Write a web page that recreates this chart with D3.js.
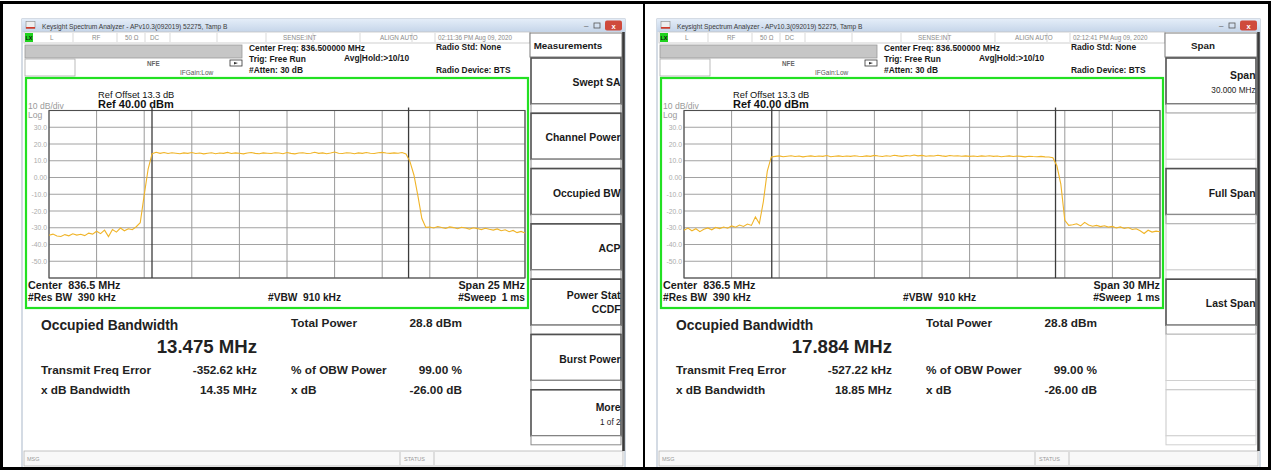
<!DOCTYPE html>
<html>
<head>
<meta charset="utf-8">
<script src="https://cdn.jsdelivr.net/npm/d3@7"></script>
<style>
body { margin: 0; background: #fff; }
svg { display: block; }
text { font-family: "Liberation Sans", Arial, sans-serif; white-space: pre; }
</style>
</head>
<body>
<div id="wrapper"></div>
<script>
// values
const centerFreq = 836.5            // MHz
const spans = [25, 30]              // MHz
const refLevel = 40                 // dBm
const refOffset = 13.3              // dB
const dbPerDiv = 10
const timestamps = ["02:11:36 PM Aug 09, 2020", "02:12:41 PM Aug 09, 2020"]
const occupiedBw = [13.475, 17.884] // MHz
const freqErrorKhz = [-352.62, -527.22]
const xdbBandwidth = [14.35, 18.85] // MHz
const totalPower = [28.8, 28.8]     // dBm
const obwPercent = [99.00, 99.00]
const xdbValue = [-26.00, -26.00]
const yTickValues = [30, 20, 10, 0, -10, -20, -30, -40, -50]
const yTickLabels = ["30.0", "20.0", "10.0", "0.00", "-10.0", "-20.0", "-30.0", "-40.0", "-50.0"]

// trace points, equally spaced over the span (dBm)
const traceLeft = [
    -34.5, -33.8, -34.9, -35.2, -34.1, -34.8, -33.6, -34.4, -33.9, -34.7,
    -33.2, -33.8, -32.1, -33.5, -31.4, -35.3, -31.0, -32.6, -30.2, -31.8,
    -30.6, -31.2, -29.4,
    -27.0, -10.5, 5.2, 14.2,
    15.1, 14.4, 14.9, 14.3, 14.8, 14.5, 14.2, 14.7, 14.4, 14.9,
    14.3, 14.6, 14.1, 14.5, 14.8, 14.2, 14.6, 14.4, 15.0, 14.3,
    14.7, 14.5, 14.1, 14.6, 14.9, 14.4, 14.2, 14.7, 14.5, 14.3,
    14.8, 14.6, 14.2, 14.9, 14.4, 14.1, 14.6, 14.8, 14.3, 14.5,
    15.1, 14.4, 14.7, 14.2, 14.6, 15.2, 14.5, 14.3, 14.8, 14.6,
    14.2, 14.7, 14.4, 14.9, 14.5, 14.3, 14.8, 15.0, 14.6, 14.4,
    14.7, 14.5, 14.9,
    14.0, 9.5, 1.5, -11.0, -24.5, -29.8,
    -29.6, -30.1, -29.3, -29.8, -30.4, -29.5, -29.9, -30.6, -29.7, -30.2,
    -30.8, -30.0, -30.5, -31.1, -30.3, -30.9, -31.4, -30.7, -31.8, -31.2,
    -32.4, -31.6, -32.9, -32.2, -33.1
]
const traceRight = [
    -31.5, -30.2, -31.8, -30.6, -32.3, -30.9, -30.1, -31.2, -29.8, -30.5,
    -29.6, -30.3, -28.9, -29.7, -28.4, -29.2, -27.8, -28.6, -23.5,
    -27.5, -14.5, 3.8, 12.3,
    12.6, 12.9, 12.4, 12.7, 13.0, 12.5, 12.8, 12.3, 12.7, 12.9,
    12.5, 12.8, 12.6, 13.1, 12.4, 12.7, 12.9, 12.5, 12.8, 12.6,
    13.0, 12.7, 12.5, 12.9, 12.6, 13.2, 12.8, 12.5, 13.0, 12.7,
    13.3, 12.9, 12.6, 13.1, 12.8, 13.4, 12.9, 13.2, 12.7, 13.0,
    12.8, 13.3, 12.9, 12.6, 13.1, 12.8, 13.0, 12.7, 12.9, 12.6,
    12.8, 12.5, 12.9, 12.7, 13.0, 12.6, 12.8, 12.4, 12.7, 12.9,
    12.5, 12.8, 12.6, 12.3, 12.7, 12.5, 12.4, 12.6, 12.3, 12.2,
    11.8, 7.0, -4.0, -25.5, -28.6,
    -28.2, -27.6, -28.9, -26.8, -28.4, -29.1, -28.6, -29.3, -28.8, -29.6,
    -29.2, -30.1, -29.5, -30.4, -29.9, -31.0, -30.6, -31.8, -33.4, -31.5,
    -32.6, -32.0, -32.4
]
const traces = [traceLeft, traceRight]

const softkeyTitles = ["Measurements", "Span"]
const softkeysLeft = [
    { lines: ["Swept SA"] },
    { lines: ["Channel Power"] },
    { lines: ["Occupied BW"] },
    { lines: ["ACP"] },
    { lines: ["Power Stat", "CCDF"] },
    { lines: ["Burst Power"] },
    { lines: ["More"], sub: "1 of 2" },
]
const softkeysRight = [
    { lines: ["Span"], sub: "30.000 MHz" },
    { lines: [] },
    { lines: ["Full Span"] },
    { lines: [] },
    { lines: ["Last Span"] },
    { lines: [] },
    { lines: [] },
]
const softkeys = [softkeysLeft, softkeysRight]

const width = 1271
const height = 470
const grid = { left: 49, right: 525, top: 110.5, bottom: 278 }

const svg = d3.select("#wrapper")
    .append("svg")
    .attr("width", width)
    .attr("height", height)

const defs = svg.append("defs")
const titleGrad = defs.append("linearGradient")
    .attr("id", "titleGrad")
    .attr("x1", 0).attr("y1", 0).attr("x2", 0).attr("y2", 1)
titleGrad.append("stop").attr("offset", "0%").attr("stop-color", "#e4edf8")
titleGrad.append("stop").attr("offset", "100%").attr("stop-color", "#c5d5e9")

function txt(g, x, y, s, size, opts = {}) {
    return g.append("text")
        .attr("x", x)
        .attr("y", y)
        .attr("font-size", size)
        .attr("font-weight", opts.bold ? "bold" : "normal")
        .attr("fill", opts.fill || "#1a1a1a")
        .attr("text-anchor", opts.anchor || "start")
        .text(s)
}

function drawPanel(i, dx) {
    const span = spans[i]
    const trace = traces[i]
    const g = svg.append("g").attr("transform", `translate(${dx},0)`)

    // window chrome
    g.append("rect")
        .attr("x", 22).attr("y", 19).attr("width", 603).attr("height", 449)
        .attr("fill", "#fff").attr("stroke", "#a9b8c9")
    g.append("rect")
        .attr("x", 22).attr("y", 19).attr("width", 603).attr("height", 13)
        .attr("fill", "url(#titleGrad)")
    g.append("rect")
        .attr("x", 26).attr("y", 21.5).attr("width", 9).attr("height", 7)
        .attr("fill", "#eee").attr("stroke", "#888").attr("stroke-width", 0.6)
    g.append("rect")
        .attr("x", 26).attr("y", 27).attr("width", 9).attr("height", 1.6)
        .attr("fill", "#d23a2a")
    txt(g, 42, 28.5, "Keysight Spectrum Analyzer - APv10.3(092019) 52275, Tamp B", 6.6, { fill: "#3a3a3a" })
    txt(g, 584, 28, "\u2013", 8, { fill: "#555" })
    g.append("rect")
        .attr("x", 594).attr("y", 23).attr("width", 6).attr("height", 5)
        .attr("fill", "none").attr("stroke", "#555").attr("stroke-width", 0.8)
    g.append("rect")
        .attr("x", 605).attr("y", 20.5).attr("width", 17).attr("height", 10).attr("rx", 2)
        .attr("fill", "#cf4a3c")
    txt(g, 613.5, 28.5, "x", 7.5, { fill: "#fff", bold: true, anchor: "middle" })

    // status row
    g.append("rect")
        .attr("x", 24).attr("y", 32).attr("width", 506).attr("height", 11)
        .attr("fill", "#fff").attr("stroke", "#c4c4c4").attr("stroke-width", 0.8)
    const cellLines = [73, 117, 145, 170, 217, 266, 313, 360, 412, 435]
    g.selectAll(".cell").data(cellLines).enter().append("line")
        .attr("x1", d => d).attr("x2", d => d).attr("y1", 33).attr("y2", 42)
        .attr("stroke", "#cfcfcf").attr("stroke-width", 0.8)
    g.append("rect")
        .attr("x", 25).attr("y", 33).attr("width", 8).attr("height", 9)
        .attr("fill", "#1ed21e")
    txt(g, 25.5, 40, "LX", 5.5, { bold: true, fill: "#111" })
    const statusTexts = [[50, "L"], [92, "RF"], [125, "50 \u03a9"], [150, "DC"],
        [283, "SENSE:INT"], [380, "ALIGN AUTO"], [438, timestamps[i]]]
    statusTexts.forEach(([x, s]) => txt(g, x, 40, s, 6.3, { fill: "#8a8a8a" }))

    g.append("rect")
        .attr("x", 25).attr("y", 45).attr("width", 217).attr("height", 13)
        .attr("fill", "#c6c6c6").attr("stroke", "#9a9a9a").attr("stroke-width", 0.8)
    g.append("rect")
        .attr("x", 25).attr("y", 59).attr("width", 50).attr("height", 17)
        .attr("fill", "#fff").attr("stroke", "#aaa").attr("stroke-width", 0.8)
    txt(g, 147, 66, "NFE", 6.3, { fill: "#666", bold: true })
    txt(g, 180, 75, "IFGain:Low", 6.5, { fill: "#555" })
    g.append("rect")
        .attr("x", 230).attr("y", 60).attr("width", 12).attr("height", 6)
        .attr("fill", "#fff").attr("stroke", "#333").attr("stroke-width", 0.8)
    g.append("path")
        .attr("d", "M234,62 L238,63 L234,64.5 Z").attr("fill", "#333")

    // header info
    txt(g, 249, 51, `Center Freq: ${centerFreq.toFixed(6)} MHz`, 8.4, { bold: true })
    txt(g, 249, 62, "Trig: Free Run", 8.4, { bold: true })
    txt(g, 249, 72.5, "#Atten: 30 dB", 8.4, { bold: true })
    txt(g, 344, 61, "Avg|Hold:>10/10", 8.4, { bold: true })
    txt(g, 436, 50, "Radio Std: None", 8.4, { bold: true })
    txt(g, 436, 72.5, "Radio Device: BTS", 8.4, { bold: true })

    // graticule frame
    g.append("rect")
        .attr("x", 26).attr("y", 78).attr("width", 502).attr("height", 230)
        .attr("fill", "none").attr("stroke", "#22e022").attr("stroke-width", 2.2)
    txt(g, 98, 97.5, `Ref Offset ${refOffset} dB`, 9.3, { fill: "#111" })
    txt(g, 98, 108, `Ref ${refLevel.toFixed(2)} dBm`, 11, { bold: true, fill: "#111" })
    txt(g, 28, 109, `${dbPerDiv} dB/div`, 8.6, { fill: "#9a9a9a" })
    txt(g, 28, 118, "Log", 8.6, { fill: "#9a9a9a" })

    const xScale = d3.scaleLinear()
        .domain([centerFreq - span / 2, centerFreq + span / 2])
        .range([grid.left, grid.right])
    const yScale = d3.scaleLinear()
        .domain([refLevel - 10 * dbPerDiv, refLevel])
        .range([grid.bottom, grid.top])

    const gridG = g.append("g")
    gridG.selectAll(".hline").data(yScale.ticks(10)).enter().append("line")
        .attr("x1", grid.left).attr("x2", grid.right)
        .attr("y1", d => yScale(d)).attr("y2", d => yScale(d))
        .attr("stroke", "#a2a2a2").attr("stroke-width", 1)
    const vFreqs = d3.range(11).map(k => centerFreq - span / 2 + k * span / 10)
    gridG.selectAll(".vline").data(vFreqs).enter().append("line")
        .attr("x1", d => xScale(d)).attr("x2", d => xScale(d))
        .attr("y1", grid.top).attr("y2", grid.bottom)
        .attr("stroke", "#9a9a9a").attr("stroke-width", 1)
    gridG.append("rect")
        .attr("x", grid.left).attr("y", grid.top)
        .attr("width", grid.right - grid.left).attr("height", grid.bottom - grid.top)
        .attr("fill", "none").attr("stroke", "#4e4e4e").attr("stroke-width", 1.1)

    const yAxis = d3.axisLeft(yScale)
        .tickValues(yTickValues)
        .tickFormat((d, k) => yTickLabels[k])
        .tickSize(0)
        .tickPadding(2)
    const yAxisG = g.append("g")
        .attr("transform", `translate(${grid.left},0)`)
        .call(yAxis)
    yAxisG.select(".domain").remove()
    yAxisG.selectAll("text")
        .attr("font-size", 6.8)
        .attr("font-family", "\"Liberation Sans\", Arial, sans-serif")
        .attr("fill", "#ababab")

    // OBW marker lines
    const markerCenter = centerFreq + freqErrorKhz[i] / 1000
    const markers = [markerCenter - occupiedBw[i] / 2, markerCenter + occupiedBw[i] / 2]
    g.selectAll(".marker").data(markers).enter().append("line")
        .attr("x1", d => xScale(d)).attr("x2", d => xScale(d))
        .attr("y1", grid.top - 3).attr("y2", grid.bottom)
        .attr("stroke", "#3c3c3c").attr("stroke-width", 1.3)

    const line = d3.line()
        .x((d, k) => xScale(centerFreq - span / 2 + k * span / (trace.length - 1)))
        .y(d => yScale(d))
    g.append("path")
        .datum(trace)
        .attr("fill", "none")
        .attr("stroke", "#f0b428")
        .attr("stroke-width", 1.1)
        .attr("d", line)

    txt(g, 28, 289, `Center\u00a0\u00a0${centerFreq} MHz`, 10.8, { bold: true })
    txt(g, 28, 301, "#Res BW\u00a0\u00a0390 kHz", 10.2, { bold: true })
    txt(g, 268, 301, "#VBW\u00a0\u00a0910 kHz", 10.2, { bold: true })
    txt(g, 525, 289, `Span ${span} MHz`, 10.8, { bold: true, anchor: "end" })
    txt(g, 525, 301, "#Sweep\u00a0\u00a01 ms", 10.2, { bold: true, anchor: "end" })

    // measurement results
    const dark = "#222"
    txt(g, 41, 330, "Occupied Bandwidth", 13.8, { bold: true, fill: dark })
    txt(g, 257, 353, `${occupiedBw[i].toFixed(3)} MHz`, 18.6, { bold: true, fill: dark, anchor: "end" })
    txt(g, 41, 374, "Transmit Freq Error", 11.8, { bold: true, fill: dark })
    txt(g, 257, 374, `${freqErrorKhz[i].toFixed(2)} kHz`, 11.8, { bold: true, fill: dark, anchor: "end" })
    txt(g, 41, 394, "x dB Bandwidth", 11.8, { bold: true, fill: dark })
    txt(g, 257, 394, `${xdbBandwidth[i].toFixed(2)} MHz`, 11.8, { bold: true, fill: dark, anchor: "end" })
    txt(g, 291, 327, "Total Power", 11.8, { bold: true, fill: dark })
    txt(g, 462, 327, `${totalPower[i].toFixed(1)} dBm`, 11.8, { bold: true, fill: dark, anchor: "end" })
    txt(g, 291, 374, "% of OBW Power", 11.8, { bold: true, fill: dark })
    txt(g, 462, 374, `${obwPercent[i].toFixed(2)} %`, 11.8, { bold: true, fill: dark, anchor: "end" })
    txt(g, 291, 394, "x dB", 11.8, { bold: true, fill: dark })
    txt(g, 462, 394, `${xdbValue[i].toFixed(2)} dB`, 11.8, { bold: true, fill: dark, anchor: "end" })

    // status bar
    g.append("rect")
        .attr("x", 24).attr("y", 451).attr("width", 599).attr("height", 15)
        .attr("fill", "#f8f8f8").attr("stroke", "#b4b4b4").attr("stroke-width", 0.8)
    g.selectAll(".sdiv").data([400, 434]).enter().append("line")
        .attr("x1", d => d).attr("x2", d => d).attr("y1", 452).attr("y2", 465)
        .attr("stroke", "#c4c4c4")
    txt(g, 27, 461, "MSG", 5.5, { fill: "#9a9a9a" })
    txt(g, 404, 461, "STATUS", 5.5, { fill: "#9a9a9a" })

    // softkey column
    g.append("rect")
        .attr("x", 530).attr("y", 33).attr("width", 92).attr("height", 24)
        .attr("fill", "#fff").attr("stroke", "#7a7a7a").attr("stroke-width", 1)
    txt(g, 568, 48.5, softkeyTitles[i], 9.8, { bold: true, anchor: "middle" })
    softkeys[i].forEach((key, k) => {
        const top = 58 + k * 55.3
        const blank = key.lines.length === 0
        g.append("rect")
            .attr("x", 531).attr("y", top).attr("width", 90).attr("height", 46)
            .attr("fill", "#fff")
            .attr("stroke", blank ? "#c8c8c8" : "#505050")
            .attr("stroke-width", blank ? 1 : 1.6)
        g.append("rect")
            .attr("x", 531).attr("y", top + 46).attr("width", 90).attr("height", 9)
            .attr("fill", "#fff").attr("stroke", blank ? "#d0d0d0" : "#8a8a8a").attr("stroke-width", 1)
        const kx = 620.5
        if (key.lines.length === 1 && !key.sub) {
            txt(g, kx, top + 28, key.lines[0], 10.4, { bold: true, anchor: "end" })
        } else if (key.lines.length === 2) {
            txt(g, kx, top + 20, key.lines[0], 10.4, { bold: true, anchor: "end" })
            txt(g, kx, top + 34, key.lines[1], 10.4, { bold: true, anchor: "end" })
        } else if (key.sub) {
            txt(g, kx, top + 21, key.lines[0], 10.4, { bold: true, anchor: "end" })
            txt(g, kx, top + 35, key.sub, 8.2, { anchor: "end" })
        }
    })
    g.append("line")
        .attr("x1", 623.5).attr("x2", 623.5).attr("y1", 32).attr("y2", 451)
        .attr("stroke", "#3a3a3a").attr("stroke-width", 2.6)
}

drawPanel(0, 0)
drawPanel(1, 635)

// table borders around the two screenshots
svg.append("rect")
    .attr("x", 1.5).attr("y", 2.5).attr("width", 1268).attr("height", 466)
    .attr("fill", "none").attr("stroke", "#000").attr("stroke-width", 3)
svg.append("line")
    .attr("x1", 644).attr("x2", 644).attr("y1", 2).attr("y2", 469)
    .attr("stroke", "#000").attr("stroke-width", 2)
</script>
</body>
</html>
